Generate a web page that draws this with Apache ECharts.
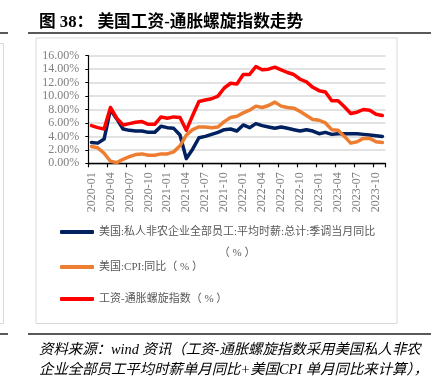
<!DOCTYPE html>
<html>
<head>
<meta charset="utf-8">
<script src="https://cdn.jsdelivr.net/npm/echarts@6/dist/echarts.min.js"></script>
<style>
  html, body { margin: 0; padding: 0; background: #ffffff; }
  #chart { width: 434px; height: 391px; }
</style>
</head>
<body>
<div id="chart"></div>
<script>
// ---- Data ----
const categories = [
  '2020-01','2020-02','2020-03','2020-04','2020-05','2020-06','2020-07','2020-08','2020-09','2020-10','2020-11','2020-12',
  '2021-01','2021-02','2021-03','2021-04','2021-05','2021-06','2021-07','2021-08','2021-09','2021-10','2021-11','2021-12',
  '2022-01','2022-02','2022-03','2022-04','2022-05','2022-06','2022-07','2022-08','2022-09','2022-10','2022-11','2022-12',
  '2023-01','2023-02','2023-03','2023-04','2023-05','2023-06','2023-07','2023-08','2023-09','2023-10','2023-11'
];
const wageYoY = [
  3.1, 3.0, 3.6, 8.0, 6.6, 5.1, 4.9, 4.8, 4.8, 4.6, 4.6, 5.5,
  5.3, 5.2, 4.2, 0.7, 2.1, 3.8, 4.0, 4.3, 4.6, 5.0, 5.1, 4.8,
  5.7, 5.3, 5.9, 5.6, 5.4, 5.2, 5.4, 5.2, 5.0, 4.8, 5.0, 4.8,
  4.4, 4.6, 4.3, 4.4, 4.4, 4.4, 4.4, 4.3, 4.2, 4.1, 4.0
];
const cpiYoY = [
  2.5, 2.3, 1.5, 0.3, 0.1, 0.6, 1.0, 1.3, 1.4, 1.2, 1.2, 1.4,
  1.4, 1.7, 2.6, 4.2, 5.0, 5.4, 5.4, 5.3, 5.4, 6.2, 6.8, 7.0,
  7.5, 7.9, 8.5, 8.3, 8.6, 9.1, 8.5, 8.3, 8.2, 7.7, 7.1, 6.5,
  6.4, 6.0, 5.0, 4.9, 4.0, 3.0, 3.2, 3.7, 3.7, 3.2, 3.1
];
const spiralIndex = [
  5.6, 5.3, 5.1, 8.3, 6.7, 5.7, 5.9, 6.1, 6.2, 5.8, 5.8, 6.9,
  6.7, 6.9, 6.8, 4.9, 7.1, 9.2, 9.4, 9.6, 10.0, 11.2, 11.9, 11.8,
  13.2, 13.2, 14.4, 13.9, 14.0, 14.3, 13.9, 13.5, 13.2, 12.5, 12.1, 11.3,
  10.8, 10.6, 9.3, 9.3, 8.4, 7.4, 7.6, 8.0, 7.9, 7.3, 7.1
];
const seriesNames = [
  '美国:私人非农企业全部员工:平均时薪:总计:季调当月同比（%）',
  '美国:CPI:同比（%）',
  '工资-通胀螺旋指数（%）'
];
const seriesColors = ['#002060', '#ED7D31', '#FF0000'];
const yMin = 0, yMax = 16, yStep = 2;

const titleText = '图 38： 美国工资-通胀螺旋指数走势';
const sourceText = '资料来源：wind 资讯（工资-通胀螺旋指数采用美国私人非农\n企业全部员工平均时薪单月同比+美国CPI 单月同比来计算），';

// ---- Chart ----
const chart = echarts.init(document.getElementById('chart'), null, { renderer: 'canvas' });
const serifFont = '"Liberation Serif", "Times New Roman", serif';
const legendFont = '"Liberation Serif", "Noto Sans CJK SC", sans-serif';
const legendColor = '#595959';

function legendCfg(name, top) {
  return {
    data: [name], left: 60, top: top, padding: 0, orient: 'vertical',
    icon: 'roundRect', itemWidth: 34, itemHeight: 4, itemGap: 0,
    selectedMode: false,
    textStyle: { color: legendColor, fontSize: 11, fontFamily: legendFont, lineHeight: 14 }
  };
}

const legend1 = legendCfg(seriesNames[0], 200.5);
legend1.formatter = function () {
  return '{s| }\n{a|美国:私人非农企业全部员工:平均时薪:总计:季调当月同比}\n{b|（ % ）}';
};
legend1.textStyle.rich = {
  s: { fontSize: 11, lineHeight: 21, fontFamily: legendFont, color: legendColor },
  a: { fontSize: 11, lineHeight: 21, fontFamily: legendFont, color: legendColor },
  b: { fontSize: 11, lineHeight: 21, fontFamily: legendFont, color: legendColor, align: 'center' }
};
const legend2 = legendCfg(seriesNames[1], 260);
legend2.formatter = function () { return '美国:CPI:同比（ % ）'; };
const legend3 = legendCfg(seriesNames[2], 292);
legend3.formatter = function () { return '工资-通胀螺旋指数（ % ）'; };

const option = {
  backgroundColor: '#ffffff',
  animation: false,
  grid: { left: 88.3, right: 48.5, top: 55.7, bottom: 227.7, containLabel: false },
  xAxis: {
    type: 'category',
    data: categories,
    boundaryGap: true,
    axisLine: { show: true, lineStyle: { color: '#000000', width: 1.3 } },
    axisTick: { show: true, interval: 2, length: 4, lineStyle: { color: '#000000', width: 1.2 } },
    axisLabel: {
      interval: 2, rotate: 90, margin: 9,
      color: '#7f7f7f', fontSize: 12, fontFamily: serifFont
    },
    splitLine: { show: false }
  },
  yAxis: {
    type: 'value',
    min: yMin, max: yMax, interval: yStep,
    axisLine: { show: true, lineStyle: { color: '#000000', width: 1.2 } },
    axisTick: { show: true, length: 3, lineStyle: { color: '#000000', width: 1 } },
    axisLabel: {
      margin: 9, color: '#7f7f7f', fontSize: 12, fontFamily: serifFont,
      formatter: function (v) { return v.toFixed(2) + '%'; }
    },
    splitLine: { show: true, lineStyle: { color: '#d9d9d9', width: 1.5 } }
  },
  legend: [legend1, legend2, legend3],
  series: [
    { name: seriesNames[0], data: wageYoY },
    { name: seriesNames[1], data: cpiYoY },
    { name: seriesNames[2], data: spiralIndex }
  ].map(function (s, i) {
    return {
      name: s.name, type: 'line', data: s.data, symbol: 'none', smooth: false,
      color: seriesColors[i],
      lineStyle: { color: seriesColors[i], width: 3.5, cap: 'round', join: 'round' }
    };
  }),
  graphic: [
    // neighbouring column remnants
    { type: 'line', shape: { x1: 0, y1: 33, x2: 8, y2: 33 }, style: { stroke: '#222', lineWidth: 1.5 }, silent: true },
    { type: 'line', shape: { x1: 0, y1: 334, x2: 8, y2: 334 }, style: { stroke: '#222', lineWidth: 1.5 }, silent: true },
    { type: 'rect', shape: { x: -10, y: 43.5, width: 13.5, height: 280 }, style: { fill: 'none', stroke: '#d9d9d9', lineWidth: 1 }, silent: true },
    // title rule lines
    { type: 'line', shape: { x1: 28, y1: 33, x2: 431, y2: 33 }, style: { stroke: '#222', lineWidth: 1.5 }, silent: true },
    { type: 'line', shape: { x1: 28, y1: 334, x2: 431, y2: 334 }, style: { stroke: '#222', lineWidth: 1.5 }, silent: true },
    // chart frame
    { type: 'rect', shape: { x: 36, y: 38, width: 361, height: 285.5 }, style: { fill: 'none', stroke: '#d9d9d9', lineWidth: 1 }, silent: true },
    // title
    { type: 'text', x: 39, y: 22.5, silent: true,
      style: { text: titleText, fill: '#000', font: 'bold 16.7px "Liberation Serif", "Noto Sans CJK SC", serif', verticalAlign: 'middle', align: 'left' } },
    // source note
    { type: 'text', x: 39, y: 340, silent: true,
      style: { text: sourceText, fill: '#000', font: 'italic 14.4px "Liberation Serif", "Noto Sans CJK SC", serif', lineHeight: 20, verticalAlign: 'top', align: 'left' } }
  ]
};
chart.setOption(option);
</script>
</body>
</html>
